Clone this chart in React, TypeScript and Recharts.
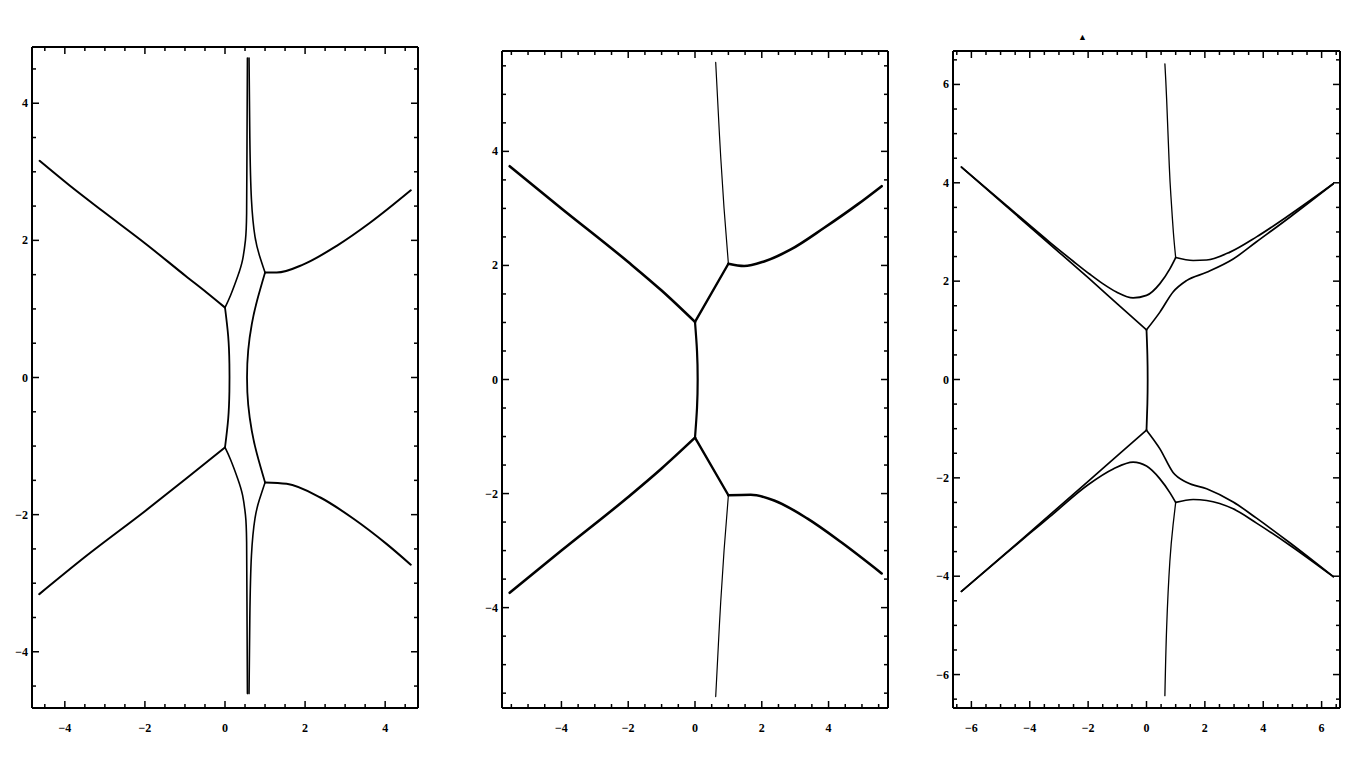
import React from 'react';
import { LineChart, Line, XAxis, YAxis } from 'recharts';

// ---------- Panel 1 data (x, y) ----------
const p1UpperLeft = [[-4.63, 3.16], [-3.88, 2.8], [-3.04, 2.42], [-1.96, 1.94], [-0.96, 1.47], [-0.46, 1.24], [0, 1.02]];
const p1LowerLeft = [[-4.64, -3.16], [-3.46, -2.6], [-2.0, -1.95], [-0.96, -1.47], [0, -1.02]];
const p1UpperRight = [[1.0, 1.53], [1.29, 1.53], [1.96, 1.65], [2.79, 1.92], [3.63, 2.26], [4.64, 2.73]];
const p1LowerRight = [[1.0, -1.53], [1.54, -1.55], [2.38, -1.75], [3.21, -2.06], [4.04, -2.43], [4.64, -2.73]];
const p1SpikeUpL = [[0, 1.02], [0.14, 1.2], [0.32, 1.48], [0.44, 1.72], [0.51, 2.0], [0.54, 2.4], [0.55, 3.5], [0.56, 4.66]];
const p1SpikeUpR = [[1.0, 1.53], [0.86, 1.78], [0.75, 2.05], [0.66, 2.6], [0.62, 3.5], [0.6, 4.66]];
const p1SpikeLoL = [[0, -1.02], [0.14, -1.2], [0.32, -1.48], [0.44, -1.72], [0.51, -2.0], [0.54, -2.4], [0.55, -3.5], [0.56, -4.61]];
const p1SpikeLoR = [[1.0, -1.53], [0.86, -1.78], [0.75, -2.05], [0.66, -2.6], [0.62, -3.5], [0.6, -4.61]];
const p1MidL = [[0, 1.02], [0.08, 0.6], [0.11, 0.2], [0.11, -0.2], [0.08, -0.6], [0, -1.02]];
const p1MidR = [[1.0, 1.53], [0.8, 1.12], [0.67, 0.78], [0.58, 0.4], [0.55, 0], [0.58, -0.4], [0.67, -0.78], [0.8, -1.12], [1.0, -1.53]];

// ---------- Panel 2 data ----------
const p2UpperLeft = [[-5.55, 3.74], [-4.0, 3.0], [-2.0, 2.06], [-1.0, 1.56], [0, 1.01]];
const p2LowerLeft = [[-5.55, -3.74], [-4.0, -3.0], [-2.0, -2.06], [-1.0, -1.56], [0, -1.02]];
const p2UpperConn = [[0, 1.01], [1.0, 2.03]];
const p2LowerConn = [[0, -1.02], [1.0, -2.03]];
const p2UpperSpike = [[1.0, 2.03], [0.87, 3.0], [0.77, 3.9], [0.7, 4.65], [0.62, 5.56]];
const p2LowerSpike = [[1.0, -2.03], [0.87, -3.0], [0.77, -3.9], [0.7, -4.65], [0.62, -5.56]];
const p2UpperRight = [[1.0, 2.03], [1.47, 1.99], [2.07, 2.07], [2.87, 2.28], [3.87, 2.66], [4.87, 3.07], [5.59, 3.39]];
const p2LowerRight = [[1.0, -2.03], [1.67, -2.02], [2.37, -2.12], [3.37, -2.44], [4.37, -2.85], [5.59, -3.4]];
const p2Middle = [[0, 1.01], [0.06, 0.5], [0.08, 0], [0.06, -0.5], [0, -1.02]];

// ---------- Panel 3 data ----------
const p3UpperA = [[-6.34, 4.32], [-4.8, 3.54], [-3.31, 2.79], [-2.5, 2.4], [-1.94, 2.14], [-1.5, 1.95], [-1.03, 1.78], [-0.46, 1.66], [0, 1.71], [0.46, 1.95], [0.8, 2.25], [1.0, 2.48]];
const p3UpperB = [[-6.34, 4.32], [-4.8, 3.52], [-3.31, 2.75], [-2.0, 2.07], [-1.0, 1.54], [0, 1.01]];
const p3UpperSpike = [[1.0, 2.48], [0.92, 3.0], [0.84, 3.7], [0.78, 4.35], [0.69, 5.7], [0.63, 6.42]];
const p3UpperC = [[1.0, 2.48], [1.6, 2.42], [2.06, 2.43], [2.86, 2.59], [3.77, 2.9], [4.91, 3.35], [6.4, 3.98]];
const p3UpperD = [[0, 1.01], [0.46, 1.37], [0.91, 1.78], [1.37, 2.01], [2.06, 2.18], [2.97, 2.45], [3.77, 2.8], [4.91, 3.3], [6.4, 3.98]];
const p3Middle = [[0, 1.01], [0.03, 0.5], [0.04, 0], [0.03, -0.5], [0, -1.03]];
const p3LowerB = [[-6.34, -4.31], [-4.0, -3.11], [-2.0, -2.07], [-0.91, -1.5], [0, -1.03]];
const p3LowerA = [[-6.34, -4.31], [-4.8, -3.53], [-4.0, -3.13], [-3.31, -2.79], [-2.0, -2.14], [-1.14, -1.82], [-0.46, -1.68], [0, -1.76], [0.46, -2.02], [0.8, -2.3], [1.0, -2.5]];
const p3LowerSpike = [[1.0, -2.5], [0.91, -2.96], [0.8, -3.7], [0.69, -5.05], [0.63, -6.43]];
const p3LowerC = [[1.0, -2.5], [1.6, -2.44], [2.06, -2.46], [2.97, -2.63], [3.77, -2.92], [4.91, -3.37], [6.4, -4.01]];
const p3LowerD = [[0, -1.03], [0.46, -1.41], [0.91, -1.89], [1.37, -2.09], [2.06, -2.22], [2.97, -2.49], [3.77, -2.82], [4.91, -3.32], [6.4, -4.01]];

// ---------- tick labels ----------
const p1Major = [-4, -2, 0, 2, 4];
const p2Major = [-4, -2, 0, 2, 4];
const p3Major = [-6, -4, -2, 0, 2, 4, 6];

const toPts = (arr: number[][]) => arr.map(([x, y]) => ({ x, y }));

const minorTicks = (lo: number, hi: number) => {
  const out: number[] = [];
  for (let v = Math.ceil(lo * 2) / 2; v <= hi + 1e-9; v += 0.5) out.push(Math.round(v * 2) / 2);
  return out;
};

const fmt = (v: number) => (v < 0 ? '\u2212' + Math.abs(v) : String(v));

const makeTick = (orient: string, majors: number[], showLabel: boolean) => (props: any) => {
  const { x, y, payload } = props;
  const v = payload.value;
  const isMajor = majors.some((m) => Math.abs(m - v) < 1e-6);
  const len = isMajor ? 7 : 4;
  let line: any = null;
  let label: any = null;
  const tStyle = { fontFamily: '"Liberation Serif", serif', fontWeight: 700, fontSize: 12, fill: '#000' };
  if (orient === 'bottom') {
    line = <line x1={x} y1={y} x2={x} y2={y - len} stroke="#000" strokeWidth={1.5} />;
    if (showLabel && isMajor) label = <text x={x} y={y + 24} textAnchor="middle" style={tStyle}>{fmt(v)}</text>;
  } else if (orient === 'top') {
    line = <line x1={x} y1={y} x2={x} y2={y + len} stroke="#000" strokeWidth={1.5} />;
  } else if (orient === 'left') {
    line = <line x1={x} y1={y} x2={x + len} y2={y} stroke="#000" strokeWidth={1.5} />;
    if (showLabel && isMajor) label = <text x={x - 4} y={y + 4} textAnchor="end" style={tStyle}>{fmt(v)}</text>;
  } else {
    line = <line x1={x} y1={y} x2={x - len} y2={y} stroke="#000" strokeWidth={1.5} />;
  }
  return <g>{line}{label}</g>;
};

type Curve = { pts: number[][]; w: number; t?: string };

const Panel = ({ left, top, w, h, xd, yd, majors, curves }: any) => {
  const xt = minorTicks(xd[0], xd[1]);
  const yt = minorTicks(yd[0], yd[1]);
  const axisLine = { stroke: '#000', strokeWidth: 2 };
  return (
    <div style={{ position: 'absolute', left, top }}>
      <LineChart width={w + 40} height={h + 40} margin={{ top: 9, right: 9, bottom: 0, left: 0 }}>
        <XAxis xAxisId="b" type="number" dataKey="x" domain={xd} ticks={xt} interval={0} allowDataOverflow
          orientation="bottom" height={30} tickSize={0} tickMargin={0} tickLine={false} axisLine={axisLine}
          tick={makeTick('bottom', majors, true)} />
        <XAxis xAxisId="t" type="number" dataKey="x" domain={xd} ticks={xt} interval={0} allowDataOverflow
          orientation="top" height={1} tickSize={0} tickMargin={0} tickLine={false} axisLine={axisLine}
          tick={makeTick('top', majors, false)} />
        <YAxis yAxisId="l" type="number" dataKey="y" domain={yd} ticks={yt} interval={0} allowDataOverflow
          orientation="left" width={30} tickSize={0} tickMargin={0} tickLine={false} axisLine={axisLine}
          tick={makeTick('left', majors, true)} />
        <YAxis yAxisId="r" type="number" dataKey="y" domain={yd} ticks={yt} interval={0} allowDataOverflow
          orientation="right" width={1} tickSize={0} tickMargin={0} tickLine={false} axisLine={axisLine}
          tick={makeTick('right', majors, false)} />
        {curves.map((c: Curve, i: number) => (
          <Line key={i} xAxisId="b" yAxisId="l" data={toPts(c.pts)} dataKey="y" type={(c.t || 'natural') as any}
            dot={false} activeDot={false} stroke="#000" strokeWidth={c.w} isAnimationActive={false}
            strokeLinejoin="round" strokeLinecap="round" />
        ))}
      </LineChart>
    </div>
  );
};

const M = 'monotone';
const panel1Curves: Curve[] = [
  { pts: p1UpperLeft, w: 2, t: M }, { pts: p1LowerLeft, w: 2, t: M },
  { pts: p1UpperRight, w: 2, t: M }, { pts: p1LowerRight, w: 2, t: M },
  { pts: p1SpikeUpL, w: 1.6 }, { pts: p1SpikeUpR, w: 1.6 },
  { pts: p1SpikeLoL, w: 1.6 }, { pts: p1SpikeLoR, w: 1.6 },
  { pts: p1MidL, w: 1.8 }, { pts: p1MidR, w: 1.8 },
];
const panel2Curves: Curve[] = [
  { pts: p2UpperLeft, w: 2.6, t: M }, { pts: p2LowerLeft, w: 2.6, t: M },
  { pts: p2UpperConn, w: 2.4, t: 'linear' }, { pts: p2LowerConn, w: 2.4, t: 'linear' },
  { pts: p2UpperSpike, w: 1.2 }, { pts: p2LowerSpike, w: 1.2 },
  { pts: p2UpperRight, w: 2.6, t: M }, { pts: p2LowerRight, w: 2.6, t: M },
  { pts: p2Middle, w: 2.2 },
];
const panel3Curves: Curve[] = [
  { pts: p3UpperA, w: 1.7, t: M }, { pts: p3UpperB, w: 1.7, t: M },
  { pts: p3UpperSpike, w: 1.3 }, { pts: p3UpperC, w: 1.7, t: M }, { pts: p3UpperD, w: 1.7, t: M },
  { pts: p3Middle, w: 1.8 },
  { pts: p3LowerA, w: 1.7, t: M }, { pts: p3LowerB, w: 1.7, t: M },
  { pts: p3LowerSpike, w: 1.3 }, { pts: p3LowerC, w: 1.7, t: M }, { pts: p3LowerD, w: 1.7, t: M },
];

export default function App() {
  return (
    <div style={{ position: 'absolute', left: 0, top: 0, width: 1366, height: 768, background: '#fff' }}>
      <Panel left={2} top={37} w={386} h={661} xd={[-4.82, 4.82]} yd={[-4.82, 4.82]} majors={p1Major} curves={panel1Curves} />
      <Panel left={472} top={41} w={386} h={657} xd={[-5.78, 5.78]} yd={[-5.76, 5.76]} majors={p2Major} curves={panel2Curves} />
      <Panel left={923} top={41} w={387} h={657} xd={[-6.63, 6.63]} yd={[-6.68, 6.68]} majors={p3Major} curves={panel3Curves} />
      <span style={{ position: 'absolute', left: 1078, top: 33, fontSize: 9, lineHeight: '9px', color: '#000' }}>▲</span>
    </div>
  );
}
